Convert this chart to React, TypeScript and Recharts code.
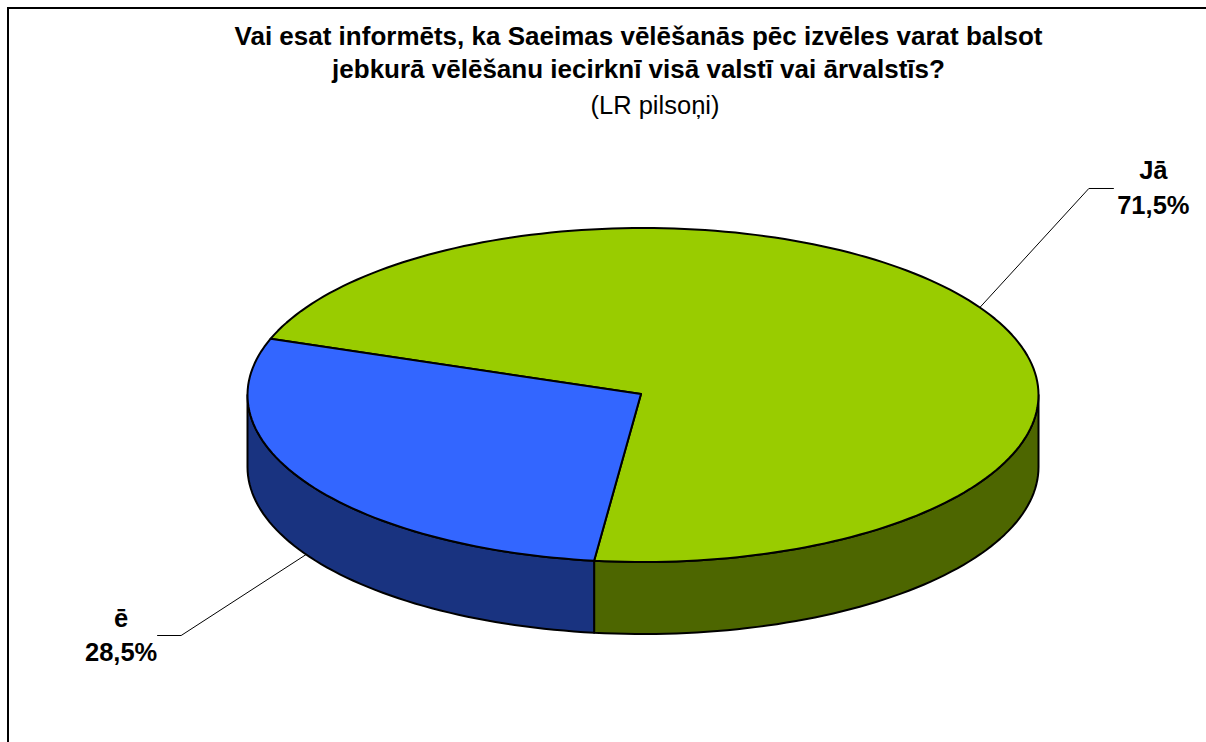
import React from 'react';
import { PieChart, Pie } from 'recharts';

const categories = ['Jā', 'ē'];
const shares = [71.5, 28.5];
const topColors = ['#99CC00', '#3366FF'];
const sideColors = ['#4D6600', '#193380'];
const titleLines = [
  'Vai esat informēts, ka Saeimas vēlēšanās pēc izvēles varat balsot',
  'jebkurā vēlēšanu iecirknī visā valstī vai ārvalstīs?',
];
const subtitle = '(LR pilsoņi)';

const data = categories.map((name, i) => ({
  name,
  value: shares[i],
  fill: topColors[i],
  side: sideColors[i],
}));

const FONT = '"Liberation Sans", Arial, sans-serif';
const SQUEEZE = 167 / 395.5; // pie is tilted, so the circle reads as a flat ellipse
const DEPTH = 72;
const RAD = Math.PI / 180;

const arcPoints = (cx: number, cy: number, r: number, from: number, to: number) => {
  const steps = Math.max(2, Math.ceil(Math.abs(to - from) / 1.5));
  const pts: string[] = [];
  for (let i = 0; i <= steps; i++) {
    const a = (from + ((to - from) * i) / steps) * RAD;
    pts.push(`${(cx + r * Math.cos(a)).toFixed(2)},${(cy - r * SQUEEZE * Math.sin(a)).toFixed(2)}`);
  }
  return pts;
};

const Slice3D = (props: any) => {
  const { cx, cy, outerRadius, startAngle, endAngle, fill, payload } = props;
  const top = arcPoints(cx, cy, outerRadius, startAngle, endAngle);
  // only the front half of the rim is visible
  const from = Math.min(startAngle, 0);
  const to = Math.max(endAngle, -180);
  const upper = arcPoints(cx, cy, outerRadius, from, to);
  const lower = arcPoints(cx, cy + DEPTH, outerRadius, to, from);
  return (
    <g>
      <polygon points={[...upper, ...lower].join(' ')} fill={payload.side} stroke="#000" strokeWidth={2} strokeLinejoin="round" />
      <polygon points={[`${cx - 2},${cy - 1}`, ...top].join(' ')} fill={fill} stroke="#000" strokeWidth={2} strokeLinejoin="round" />
    </g>
  );
};

const SliceLabel = (props: any) => {
  const { cx, cy, midAngle, outerRadius, name, value } = props;
  const a = midAngle * RAD;
  const front = Math.sin(a) < 0;
  const x0 = cx + outerRadius * Math.cos(a);
  const y0 = cy - outerRadius * SQUEEZE * Math.sin(a) + (front ? DEPTH : 0);
  const right = Math.cos(a) > 0;
  const x1 = right ? x0 + 109 : x0 - 125;
  const y1 = right ? y0 - 119 : y0 + 81;
  const x2 = right ? x1 + 25 : x1 - 24;
  const tx = right ? x2 + 39.5 : x2 - 36;
  const ty = y1 - 9;
  const common = { fill: '#000', fontFamily: FONT, fontSize: 25.5, fontWeight: 700, textAnchor: 'middle' as const };
  return (
    <g>
      <polyline points={`${x0},${y0} ${x1},${y1} ${x2},${y1}`} fill="none" stroke="#000" strokeWidth={1} />
      <text x={tx} y={ty} {...common}>{name}</text>
      <text x={tx} y={ty + 34.5} {...common}>{value.toFixed(1).replace('.', ',')}%</text>
    </g>
  );
};

const App = () => {
  return (
    <div style={{ position: 'absolute', left: 0, top: 0, width: 1206, height: 742, overflow: 'hidden', background: '#fff' }}>
      <div style={{ position: 'absolute', left: 7, top: 7, right: 0, bottom: 0, borderTop: '2px solid #000', borderLeft: '2px solid #000' }} />
      <div style={{ position: 'absolute', left: 0, top: 0 }}>
        <PieChart width={1206} height={742} margin={{ top: 0, right: 0, bottom: 0, left: 0 }}>
          <text x={638.5} y={45} textAnchor="middle" fontFamily={FONT} fontSize={26} fontWeight={700} fill="#000">{titleLines[0]}</text>
          <text x={638.5} y={78} textAnchor="middle" fontFamily={FONT} fontSize={26} fontWeight={700} fill="#000">{titleLines[1]}</text>
          <text x={655} y={114} textAnchor="middle" fontFamily={FONT} fontSize={25.5} fill="#000">{subtitle}</text>
          <Pie
            data={data}
            dataKey="value"
            nameKey="name"
            cx={643}
            cy={395}
            innerRadius={0}
            outerRadius={395.5}
            startAngle={160.3}
            endAngle={-199.7}
            shape={Slice3D}
            label={SliceLabel}
            labelLine={false}
            isAnimationActive={false}
          />
        </PieChart>
      </div>
    </div>
  );
};

export default App;
